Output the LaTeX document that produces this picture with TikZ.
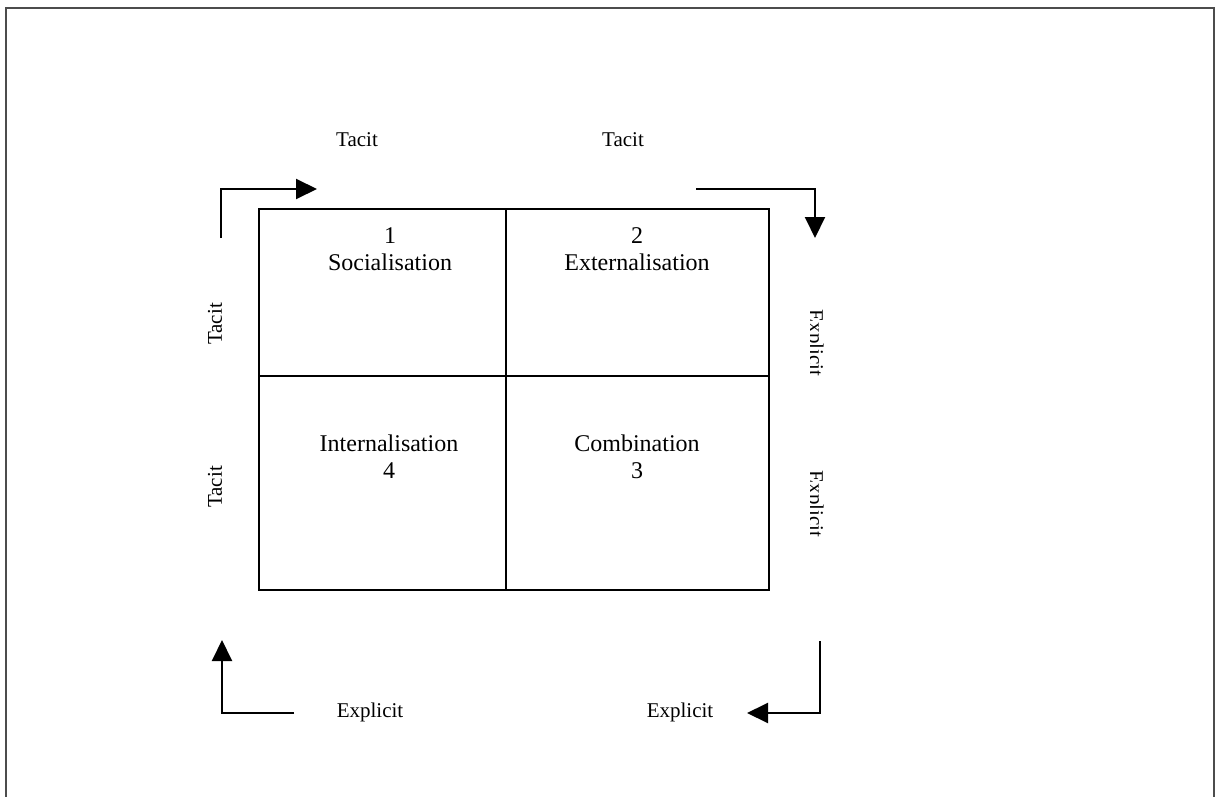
\documentclass[tikz,border=0pt]{standalone}
\usepackage{fontspec}
\setmainfont{Liberation Serif}
\usetikzlibrary{arrows.meta}
\begin{document}
\begin{tikzpicture}[x=1pt,y=-1pt,
  frame/.style={draw=black!70,line width=2pt},
  cell/.style={draw,line width=2pt,inner sep=0pt},
  quad/.style={font=\fontsize{24}{27}\selectfont,align=center,inner sep=0pt},
  side/.style={font=\fontsize{21}{24}\selectfont,inner sep=0pt},
  flow/.style={line width=2pt,-{Triangle[length=21pt,width=20pt]}}]
\useasboundingbox (0,0) rectangle (1216,797);
\fill[white] (0,0) rectangle (1216,797);
% outer frame (bottom edge runs off the page)
\draw[frame] (6,812) -- (6,8) -- (1214,8) -- (1214,812);

% the four quadrants
\node[cell,minimum width=247pt,minimum height=167pt,anchor=north west] (c1) at (258,208) {};
\node[cell,minimum width=263pt,minimum height=167pt,anchor=north west] (c2) at (505,208) {};
\node[cell,minimum width=247pt,minimum height=214pt,anchor=north west] (c4) at (258,375) {};
\node[cell,minimum width=263pt,minimum height=214pt,anchor=north west] (c3) at (505,375) {};

\node[quad] (q1) at (390,249) {1\\Socialisation};
\node[quad] (q2) at (637,249) {2\\Externalisation};
\node[quad] (q4) at (389,457) {Internalisation\\4};
\node[quad] (q3) at (637,457) {Combination\\3};

% labels along the edges
\node[side] (t1) at (357,140) {Tacit};
\node[side] (t2) at (623,140) {Tacit};
\node[side,rotate=90] (t3) at (215,324) {Tacit};
\node[side,rotate=90] (t4) at (215,487) {Tacit};
\node[side] (e1) at (370,712) {Explicit};
\node[side] (e2) at (680,712) {Explicit};
% the right-hand labels lose their lower edge
\begin{scope}
  \clip (810.5,250) rectangle (840,600);
  \node[side,rotate=-90,anchor=base] (e3) at (809,343) {Explicit};
  \node[side,rotate=-90,anchor=base] (e4) at (809,504) {Explicit};
\end{scope}

% circulation arrows
\coordinate (a1s) at (221,238);
\coordinate (a1e) at (317,189);
\coordinate (a2s) at (696,189);
\coordinate (a2e) at (815,238);
\coordinate (a3s) at (820,641);
\coordinate (a3e) at (747,713);
\coordinate (a4s) at (294,713);
\coordinate (a4e) at (222,640);
\draw[flow] (a1s) |- (a1e);
\draw[flow] (a2s) -| (a2e);
\draw[flow] (a3s) |- (a3e);
\draw[flow] (a4s) -| (a4e);
\end{tikzpicture}
\end{document}
